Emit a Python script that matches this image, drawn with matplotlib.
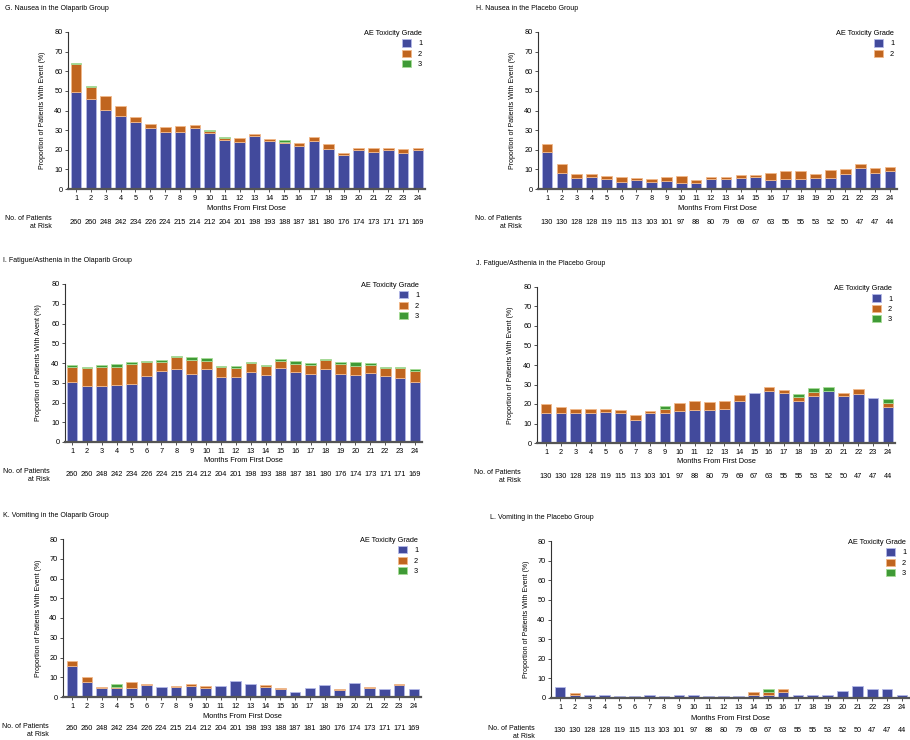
import matplotlib.pyplot as plt
from matplotlib.patches import Patch
from matplotlib.transforms import blended_transform_factory

plt.rcParams["font.family"] = ["Liberation Sans", "DejaVu Sans"]

months = list(range(1, 25))

risk_olaparib = [260, 260, 248, 242, 234, 226, 224, 215, 214, 212, 204, 201,
                 198, 193, 188, 187, 181, 180, 176, 174, 173, 171, 171, 169]
risk_placebo = [130, 130, 128, 128, 119, 115, 113, 103, 101, 97, 88, 80,
                79, 69, 67, 63, 55, 55, 53, 52, 50, 47, 47, 44]

# G. nausea, olaparib (% of patients per grade)
nausea_ola_g1 = [49.5, 46.0, 40.2, 37.3, 34.1, 31.0, 29.2, 29.2, 31.0, 28.5, 25.1, 24.1,
                 27.1, 24.6, 23.6, 22.0, 24.6, 20.2, 17.3, 19.7, 19.0, 20.0, 18.5, 20.0]
nausea_ola_g2 = [14.0, 6.0, 7.1, 4.9, 2.7, 2.2, 2.2, 2.7, 1.5, 1.2, 0.7, 1.7,
                 1.0, 0.8, 0.5, 1.2, 1.8, 2.5, 1.2, 1.1, 1.7, 1.0, 1.8, 0.7]
nausea_ola_g3 = [0.8, 0.5, 0, 0, 0, 0, 0, 0, 0, 0.6, 0.6, 0,
                 0, 0, 0.8, 0, 0, 0, 0, 0, 0, 0, 0, 0]

# H. nausea, placebo
nausea_pbo_g1 = [19.0, 8.0, 5.5, 6.2, 5.2, 3.5, 4.5, 3.8, 4.0, 3.3, 3.3, 5.0,
                 5.0, 5.8, 6.2, 4.7, 5.2, 5.2, 5.5, 5.5, 7.8, 10.5, 8.3, 9.0]
nausea_pbo_g2 = [4.0, 4.5, 2.3, 1.6, 1.6, 2.7, 1.0, 1.2, 2.2, 3.2, 1.4, 1.2,
                 1.2, 1.5, 1.1, 3.3, 3.8, 3.8, 2.2, 4.0, 2.2, 2.3, 2.4, 2.3]

# I. fatigue/asthenia, olaparib
fatigue_ola_g1 = [30.3, 28.5, 28.5, 28.8, 29.5, 33.2, 35.9, 36.8, 34.4, 37.0, 32.9, 32.9,
                  35.4, 33.9, 37.3, 35.4, 34.4, 36.8, 34.6, 33.7, 34.9, 33.6, 32.2, 30.5]
fatigue_ola_g2 = [7.5, 8.8, 9.3, 9.0, 10.2, 7.5, 4.8, 6.0, 7.3, 4.0, 5.1, 4.4,
                  4.4, 4.7, 3.5, 4.3, 4.7, 4.7, 4.7, 4.8, 4.2, 4.0, 5.3, 5.3]
fatigue_ola_g3 = [1.0, 0.5, 1.0, 1.5, 0.6, 0.5, 0.7, 0.6, 1.4, 1.5, 0.6, 1.0,
                  0.9, 0.5, 1.1, 1.3, 0.7, 0.7, 1.0, 1.8, 0.7, 0.5, 0.6, 1.0]

# J. fatigue/asthenia, placebo
fatigue_pbo_g1 = [15.4, 15.4, 15.4, 15.4, 15.7, 15.4, 11.8, 15.4, 15.4, 16.2, 17.1, 17.1,
                  17.4, 21.4, 25.5, 26.7, 25.5, 21.7, 24.3, 26.7, 24.1, 25.3, 23.1, 18.3]
fatigue_pbo_g2 = [4.6, 2.9, 1.9, 2.0, 1.7, 1.5, 2.4, 1.0, 2.0, 4.3, 4.4, 3.9,
                  4.0, 3.2, 0, 2.0, 1.7, 1.9, 2.0, 0, 1.5, 2.4, 0, 2.0]
fatigue_pbo_g3 = [0, 0, 0, 0, 0, 0, 0, 0, 1.4, 0, 0, 0,
                  0, 0, 0, 0, 0, 1.7, 2.1, 2.0, 0, 0, 0, 2.4]

# K. vomiting, olaparib
vomit_ola_g1 = [15.7, 7.8, 4.8, 4.5, 4.8, 6.0, 5.2, 5.0, 5.5, 4.8, 5.5, 8.1,
                6.6, 5.3, 3.8, 2.6, 4.7, 6.0, 3.6, 7.2, 4.7, 4.1, 6.2, 4.1]
vomit_ola_g2 = [2.7, 2.4, 0.5, 0.8, 2.6, 0.7, 0, 0.5, 0.9, 0.9, 0, 0,
                0, 0.9, 0.7, 0, 0, 0, 0.5, 0, 0.6, 0, 0.5, 0]
vomit_ola_g3 = [0, 0, 0, 1.1, 0, 0, 0, 0, 0, 0, 0, 0,
                0, 0, 0, 0, 0, 0, 0, 0, 0, 0, 0, 0]

# L. vomiting, placebo
vomit_pbo_g1 = [5.4, 1.5, 1.5, 1.5, 0.8, 0.8, 1.5, 0.8, 1.5, 1.5, 0.8, 0.8,
                0.8, 1.5, 1.5, 3.1, 1.5, 1.5, 1.5, 3.8, 6.0, 4.6, 4.6, 1.5]
vomit_pbo_g2 = [0, 1.3, 0, 0, 0, 0, 0, 0, 0, 0, 0, 0,
                0, 1.5, 1.5, 1.5, 0, 0, 0, 0, 0, 0, 0, 0]
vomit_pbo_g3 = [0, 0, 0, 0, 0, 0, 0, 0, 0, 0, 0, 0,
                0, 0, 1.5, 0, 0, 0, 0, 0, 0, 0, 0, 0]

grade_labels = ["1", "2", "3"]
face_colors = ["#424a9c", "#c0651f", "#3f9a36"]
edge_colors = ["#b4b9e8", "#f2b98a", "#a8dc98"]

W, H = 910, 740
FS = 5.0
TICK_FS = 5.3

fig = plt.figure(figsize=(W / 100, H / 100), dpi=100)


def fy(py):
    return 1 - py / H


# pixel layout of each panel
panels = [
    dict(title="G. Nausea in the Olaparib Group",
         grades=[nausea_ola_g1, nausea_ola_g2, nausea_ola_g3], risk=risk_olaparib,
         ylabel="Proportion of Patients With Event (%)",
         left=68, bar1=76, bar24=418, right=425, top=32, bottom=189,
         title_xy=(5, 5), ylabel_x=43, xlabel_y=209, risk_x=52, risk_rows=(219, 226), risk_y=223),
    dict(title="H. Nausea in the Placebo Group",
         grades=[nausea_pbo_g1, nausea_pbo_g2], risk=risk_placebo,
         ylabel="Proportion of Patients With Event (%)",
         left=538, bar1=547, bar24=890, right=897, top=32, bottom=189,
         title_xy=(476, 5), ylabel_x=512, xlabel_y=209, risk_x=522, risk_rows=(219, 226), risk_y=223),
    dict(title="I. Fatigue/Asthenia in the Olaparib Group",
         grades=[fatigue_ola_g1, fatigue_ola_g2, fatigue_ola_g3], risk=risk_olaparib,
         ylabel="Proportion of Patients With Avent (%)",
         left=65, bar1=72, bar24=415, right=422, top=284, bottom=442,
         title_xy=(3, 257), ylabel_x=38, xlabel_y=461, risk_x=50, risk_rows=(471, 479), risk_y=475),
    dict(title="J. Fatigue/Asthenia in the Placebo Group",
         grades=[fatigue_pbo_g1, fatigue_pbo_g2, fatigue_pbo_g3], risk=risk_placebo,
         ylabel="Proportion of Patients With Event (%)",
         left=537, bar1=546, bar24=888, right=895, top=287, bottom=443,
         title_xy=(476, 260), ylabel_x=511, xlabel_y=462, risk_x=521, risk_rows=(473, 481), risk_y=477),
    dict(title="K. Vomiting in the Olaparib Group",
         grades=[vomit_ola_g1, vomit_ola_g2, vomit_ola_g3], risk=risk_olaparib,
         ylabel="Proportion of Patients With Event (%)",
         left=63, bar1=72, bar24=414, right=421, top=539, bottom=697,
         title_xy=(3, 512), ylabel_x=38, xlabel_y=716, risk_x=49, risk_rows=(726, 734), risk_y=729),
    dict(title="L. Vomiting in the Placebo Group",
         grades=[vomit_pbo_g1, vomit_pbo_g2, vomit_pbo_g3], risk=risk_placebo,
         ylabel="Proportion of Patients With Event (%)",
         left=551, bar1=560, bar24=902, right=909, top=541, bottom=698,
         title_xy=(490, 514), ylabel_x=526, xlabel_y=718, risk_x=535, risk_rows=(728, 736), risk_y=730),
]

for p in panels:
    sp = (p["bar24"] - p["bar1"]) / 23
    x0 = 1 - (p["bar1"] - p["left"]) / sp
    x1 = 24 + (p["right"] - p["bar24"]) / sp

    ax = fig.add_axes([p["left"] / W, fy(p["bottom"]),
                       (p["right"] - p["left"]) / W, (p["bottom"] - p["top"]) / H])

    base = [0] * len(months)
    handles = []
    for i, vals in enumerate(p["grades"]):
        # no outline on empty segments
        widths = [0.6 if v > 0 else 0 for v in vals]
        ax.bar(months, vals, bottom=base, width=0.72,
               color=face_colors[i], edgecolor=edge_colors[i], linewidth=widths)
        base = [b + v for b, v in zip(base, vals)]
        handles.append(Patch(facecolor=face_colors[i], edgecolor=edge_colors[i], linewidth=0.6))

    ax.set_xlim(x0, x1)
    ax.set_ylim(0, 80)
    ax.set_yticks(range(0, 81, 10))
    ax.set_xticks(months)
    ax.tick_params(axis="both", labelsize=TICK_FS, length=2, width=0.6, pad=2, color="#333333")
    for side in ["top", "right"]:
        ax.spines[side].set_visible(False)
    ax.spines["left"].set_linewidth(0.8)
    ax.spines["left"].set_color("#333333")
    ax.spines["bottom"].set_linewidth(1.6)
    ax.spines["bottom"].set_color("#555555")

    ax.legend(handles, grade_labels[:len(p["grades"])], loc="upper right",
              bbox_to_anchor=(1.0, 1.03), frameon=False, title="AE Toxicity Grade",
              fontsize=TICK_FS, title_fontsize=TICK_FS, handlelength=1.1, handleheight=1.1,
              labelspacing=0.3, handletextpad=1.0, borderaxespad=0, alignment="right")

    # panel title, axis labels
    fig.text(p["title_xy"][0] / W, fy(p["title_xy"][1]), p["title"], fontsize=FS,
             ha="left", va="top")
    fig.text(p["ylabel_x"] / W, fy((p["top"] + p["bottom"]) / 2), p["ylabel"], fontsize=FS,
             rotation=90, ha="center", va="center")
    fig.text((p["left"] + p["right"]) / 2 / W, fy(p["xlabel_y"]), "Months From First Dose",
             fontsize=TICK_FS, ha="center", va="center")

    # number at risk table
    fig.text(p["risk_x"] / W, fy(p["risk_rows"][0]), "No. of Patients", fontsize=FS,
             ha="right", va="center")
    fig.text(p["risk_x"] / W, fy(p["risk_rows"][1]), "at Risk", fontsize=FS,
             ha="right", va="center")
    trans = blended_transform_factory(ax.transData, fig.transFigure)
    for m, n in zip(months, p["risk"]):
        ax.text(m, fy(p["risk_y"]), str(n), transform=trans, fontsize=TICK_FS,
                ha="center", va="center", clip_on=False)

fig.savefig("out.png", dpi=100)
